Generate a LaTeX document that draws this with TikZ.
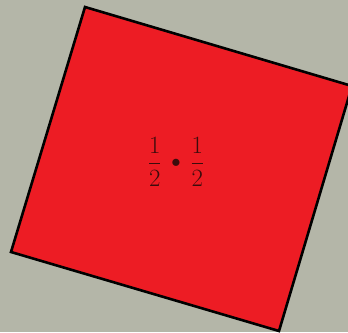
\documentclass[tikz,border=0pt]{standalone}
\usepackage{amsmath}
\usepackage{graphicx}
\definecolor{bgc}{RGB}{180,182,168}
\definecolor{sqred}{RGB}{237,28,36}
\definecolor{txt}{RGB}{60,12,12}
\newcommand{\smalldot}{\mathbin{\vcenter{\hbox{\scalebox{0.75}{$\bullet$}}}}}
\begin{document}
\begin{tikzpicture}[x=1pt,y=-1pt,
  sq/.style={draw=black,fill=sqred,line width=2.6pt,line join=miter},
  lbl/.style={text=txt,inner sep=0pt,font=\fontsize{23}{28}\selectfont}]
\fill[bgc] (0,0) rectangle (348,332);
\useasboundingbox (0,0) rectangle (348,332);
\begin{scope}
\clip (0,0) rectangle (348,332);
\coordinate (A) at (85,7);
\coordinate (B) at (352,86);
\coordinate (C) at (279,331);
\coordinate (D) at (11,252);
\draw[sq] (A) -- (B) -- (C) -- (D) -- cycle;
\end{scope}
\node[lbl] (t) at (176,162) {$\dfrac{1}{2}\,\smalldot\,\dfrac{1}{2}$};
\end{tikzpicture}
\end{document}
